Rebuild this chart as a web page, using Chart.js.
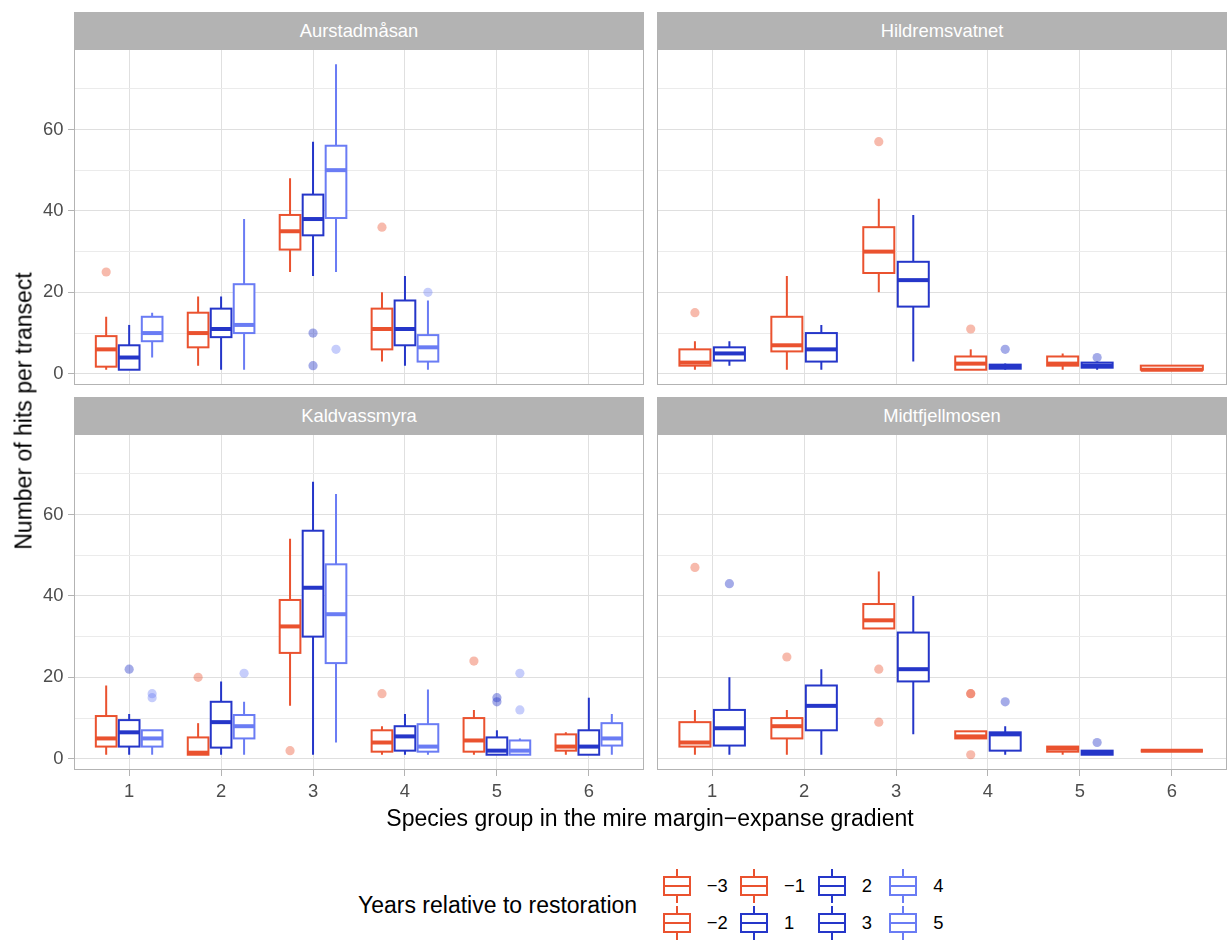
<!DOCTYPE html>
<html>
<head>
<meta charset="utf-8">
<script src="https://cdn.jsdelivr.net/npm/chart.js@4.4.1/dist/chart.umd.min.js"></script>
<style>
  html,body{margin:0;padding:0;background:#fff;}
  body{width:1227px;height:940px;position:relative;overflow:hidden;font-family:"Liberation Sans",Arial,Helvetica,sans-serif;}
  canvas{position:absolute;}
  .strip{position:absolute;background:#B3B3B3;color:#fff;font-size:18.4px;display:flex;align-items:center;justify-content:center;}
  .title{position:absolute;font-size:23px;color:#000;white-space:nowrap;}
  .lab{position:absolute;font-size:18.4px;color:#000;white-space:nowrap;transform:translateY(-50%);}
  .key{position:absolute;}
</style>
</head>
<body>
<canvas id="p0" width="644" height="336" style="left:0px;top:49px;"></canvas>
<canvas id="p1" width="570" height="336" style="left:657px;top:49px;"></canvas>
<canvas id="p2" width="644" height="396" style="left:0px;top:434px;"></canvas>
<canvas id="p3" width="570" height="396" style="left:657px;top:434px;"></canvas>

<div class="strip" id="s0" style="left:74px;top:12px;width:570px;height:37px;"></div>
<div class="strip" id="s1" style="left:657px;top:12px;width:570px;height:37px;"></div>
<div class="strip" id="s2" style="left:74px;top:397px;width:570px;height:37px;"></div>
<div class="strip" id="s3" style="left:657px;top:397px;width:570px;height:37px;"></div>

<div class="title" id="ytitle" style="left:24px;top:411px;transform:translate(-50%,-50%) rotate(-90deg);"></div>
<div class="title" id="xtitle" style="left:650px;top:818px;transform:translate(-50%,-50%);"></div>
<div class="title" id="ltitle" style="left:358px;top:905px;transform:translateY(-50%);"></div>
<div id="legend"></div>

<script>
// ---------------- data ----------------
const speciesGroups = [1, 2, 3, 4, 5, 6];
const yTickValues = [0, 10, 20, 30, 40, 50, 60, 70];
const yLabelValues = [0, 20, 40, 60];
const siteNames = ["Aurstadmåsan", "Hildremsvatnet", "Kaldvassmyra", "Midtfjellmosen"];
const legendYears = ["−3", "−2", "−1", "1", "2", "3", "4", "5"];
const legendPhase = ["pre", "pre", "pre", "post", "post", "post", "late", "late"];
const xAxisTitle = "Species group in the mire margin−expanse gradient";
const yAxisTitle = "Number of hits per transect";
const legendTitle = "Years relative to restoration";

// five-number summaries per species group: [min, lower hinge, median, upper hinge, max]
// Aurstadmåsan
const aurPre   = [[1,1.75,6,9.25,14],[2,6.5,10,15,19],[25,30.5,35,39,48],[3,6,11,16,20],null,null];
const aurPreOut = [[25],[],[],[36],[],[]];
const aurPost  = [[1,1,4,7,12],[1,9,11,16,19],[24,34,38,44,57],[2,7,11,18,24],null,null];
const aurPostOut = [[],[],[10,2],[],[],[]];
const aurLate  = [[4,8,10,14,15],[1,10,12,22,38],[25,38.25,50,56,76],[1,3,6.5,9.5,18],null,null];
const aurLateOut = [[],[],[6],[20],[],[]];
// Hildremsvatnet
const hilPre   = [[1,2,2.75,6,8],[1,5.5,7,14,24],[20,24.75,30,36,43],[1,1,2.5,4.25,6],[1,2,2.5,4.25,5],[1,1,1,2,2]];
const hilPreOut = [[15],[],[57],[11],[],[]];
const hilPost  = [[2,3.25,5,6.5,8],[1,3,6,10,12],[3,16.5,23,27.5,39],[1,1.25,1.75,2.25,2.5],[1,1.5,2,2.75,3],null];
const hilPostOut = [[],[],[],[6],[4],[]];
// Kaldvassmyra
const kalPre   = [[1,3,5,10.5,18],[1,1,1.5,5.25,8.75],[13,26,32.5,39,54],[1,1.75,4,7,8],[1,1.75,4.5,10,12],[1,2,3,6,6.5]];
const kalPreOut = [[],[20],[2],[16],[24],[]];
const kalPost  = [[1,3,6.5,9.5,11],[1,2.75,9,14,19],[1,30,42,56,68],[1,2,5.5,8,11],[1,1,2,5.25,7],[1,1,3,7,15]];
const kalPostOut = [[22],[],[],[],[14,15],[]];
const kalLate  = [[1,3,5,7,7],[1,5,8,10.75,14],[4,23.5,35.5,47.75,65],[1,1.75,3,8.5,17],[1,1,2,4.5,5],[1,3.25,5,8.75,11]];
const kalLateOut = [[15,16],[21],[],[],[12,21],[]];
// Midtfjellmosen
const midPre   = [[1,3,4,9,12],[1,5,8,10,12],[32,32,34,38,46],[5,5,5.5,6.75,6.75],[1,1.75,2.5,3,3],[2,2,2,2,2]];
const midPreOut = [[47],[25],[22,9],[16,16,1],[],[]];
const midPost  = [[1,3.25,7.5,12,20],[1,7,13,18,22],[6,19,22,31,40],[1,2,6,6.5,8],[1,1,1.5,2,2],null];
const midPostOut = [[43],[],[],[14],[4],[]];

// ---------------- styling ----------------
const FONT = '"Liberation Sans", Arial, Helvetica, sans-serif';
const phaseColor = { pre: "#EA522F", post: "#2536C9", late: "#6A7CF4" };
const phaseFill  = { pre: "rgba(234,82,47,0.4)", post: "rgba(37,54,201,0.42)", late: "rgba(106,124,244,0.38)" };

const panels = [
  { site: 0, left: true,  bottom: false, series: [
      { phase: "pre",  stats: aurPre,  out: aurPreOut },
      { phase: "post", stats: aurPost, out: aurPostOut },
      { phase: "late", stats: aurLate, out: aurLateOut } ] },
  { site: 1, left: false, bottom: false, series: [
      { phase: "pre",  stats: hilPre,  out: hilPreOut },
      { phase: "post", stats: hilPost, out: hilPostOut } ] },
  { site: 2, left: true,  bottom: true, series: [
      { phase: "pre",  stats: kalPre,  out: kalPreOut },
      { phase: "post", stats: kalPost, out: kalPostOut },
      { phase: "late", stats: kalLate, out: kalLateOut } ] },
  { site: 3, left: false, bottom: true, series: [
      { phase: "pre",  stats: midPre,  out: midPreOut },
      { phase: "post", stats: midPost, out: midPostOut } ] }
];

// dodge: position of series s within species group g (ggplot position_dodge2, width 0.75, padding 0.1)
function dodge(series, g, si) {
  const present = series.map((s, i) => s.stats[g] ? i : -1).filter(i => i >= 0);
  const n = present.length;
  const k = present.indexOf(si);
  const slot = 0.75 / n;
  const c = speciesGroups[g] - 0.375 + (k + 0.5) * slot;
  return { c: c, half: 0.45 * slot };
}

const boxPlugin = {
  id: 'ggbox',
  beforeDatasetsDraw(chart, args, opts) {
    const ctx = chart.ctx, xs = chart.scales.x, ys = chart.scales.y, a = chart.chartArea;
    const series = opts.series;
    ctx.save();
    ctx.beginPath(); ctx.rect(a.left, a.top, a.right - a.left, a.bottom - a.top); ctx.clip();
    ctx.lineJoin = 'miter'; ctx.lineCap = 'butt';
    speciesGroups.forEach((gv, g) => {
      series.forEach((s, si) => {
        const st = s.stats[g];
        if (!st) return;
        const d = dodge(series, g, si);
        const xl = xs.getPixelForValue(d.c - d.half), xr = xs.getPixelForValue(d.c + d.half), xc = xs.getPixelForValue(d.c);
        const [mn, q1, md, q3, mx] = st.map(v => ys.getPixelForValue(v));
        ctx.strokeStyle = phaseColor[s.phase];
        ctx.lineWidth = 2;
        ctx.beginPath();
        ctx.moveTo(xc, q3); ctx.lineTo(xc, mx);
        ctx.moveTo(xc, q1); ctx.lineTo(xc, mn);
        ctx.stroke();
        ctx.fillStyle = '#fff';
        ctx.fillRect(xl, q3, xr - xl, q1 - q3);
        ctx.strokeRect(xl, q3, xr - xl, q1 - q3);
        ctx.lineWidth = 4;
        ctx.beginPath(); ctx.moveTo(xl, md); ctx.lineTo(xr, md); ctx.stroke();
      });
    });
    ctx.restore();
  },
  afterDraw(chart) {
    const ctx = chart.ctx, a = chart.chartArea;
    ctx.save();
    ctx.strokeStyle = '#B3B3B3'; ctx.lineWidth = 1;
    ctx.strokeRect(a.left + 0.5, a.top + 0.5, a.right - a.left - 1, a.bottom - a.top - 1);
    ctx.restore();
  }
};

function zeroPad(s) { s.paddingTop = 0; s.paddingBottom = 0; s.paddingLeft = 0; s.paddingRight = 0; }

panels.forEach((p, pi) => {
  document.getElementById('s' + pi).textContent = siteNames[p.site];
  const datasets = p.series.map((s, si) => ({
    label: s.phase,
    data: s.out.flatMap((vals, g) => vals.map(v => ({ x: dodge(p.series, g, si).c, y: v }))),
    pointRadius: 4.6,
    pointHoverRadius: 4.6,
    pointBorderWidth: 0,
    pointBackgroundColor: phaseFill[s.phase],
    showLine: false
  }));
  new Chart(document.getElementById('p' + pi), {
    type: 'scatter',
    data: { datasets },
    plugins: [boxPlugin],
    options: {
      responsive: false,
      animation: false,
      devicePixelRatio: 1,
      layout: { padding: 0, autoPadding: false },
      events: [],
      plugins: { legend: { display: false }, tooltip: { enabled: false }, ggbox: { series: p.series } },
      scales: {
        x: {
          type: 'linear', min: 0.4, max: 6.6,
          afterBuildTicks: s => { s.ticks = speciesGroups.map(v => ({ value: v })); },
          afterFit: s => { s.height = p.bottom ? 60 : 0; zeroPad(s); },
          border: { display: false },
          grid: { color: '#E0E0E0', lineWidth: 1, drawTicks: p.bottom, tickLength: 6, tickColor: '#B3B3B3', tickWidth: 1 },
          ticks: { display: p.bottom, autoSkip: false, maxRotation: 0, padding: 7, color: '#4D4D4D',
                   font: { family: FONT, size: 18.4, lineHeight: 1 }, callback: v => String(v) }
        },
        y: {
          type: 'linear', min: -2.75, max: 79.75,
          afterBuildTicks: s => { s.ticks = yTickValues.map(v => ({ value: v })); },
          afterFit: s => { s.width = p.left ? 74 : 0; zeroPad(s); },
          border: { display: false },
          grid: {
            color: c => (c.tick && yLabelValues.includes(c.tick.value)) ? '#DFDFDF' : '#EBEBEB',
            lineWidth: 1, drawTicks: p.left, tickLength: 6, tickWidth: 1,
            tickColor: c => (c.tick && yLabelValues.includes(c.tick.value)) ? '#B3B3B3' : 'rgba(0,0,0,0)'
          },
          ticks: { display: p.left, autoSkip: false, padding: 4.6, color: '#4D4D4D',
                   font: { family: FONT, size: 18.4, lineHeight: 1 },
                   callback: v => yLabelValues.includes(v) ? String(v) : '' }
        }
      }
    }
  });
});

// ---------------- titles & legend ----------------
document.getElementById('xtitle').textContent = xAxisTitle;
document.getElementById('ytitle').textContent = yAxisTitle;
document.getElementById('ltitle').textContent = legendTitle;

const keyCenters = [676.7, 754.2, 831.7, 902.8];
const labelLefts = [706.7, 784, 861.7, 933.3];
const rowCenters = [886, 923];
const leg = document.getElementById('legend');
legendYears.forEach((yr, i) => {
  const col = Math.floor(i / 2), row = i % 2;
  const cx = keyCenters[col], cy = rowCenters[row];
  const color = phaseColor[legendPhase[i]];
  const w = document.createElement('div');
  w.className = 'key';
  w.style.cssText = `left:${cx - 1}px;top:${cy - 17}px;width:2px;height:34px;background:${color};`;
  leg.appendChild(w);
  const b = document.createElement('div');
  b.className = 'key';
  b.style.cssText = `left:${cx - 14}px;top:${cy - 10}px;width:24px;height:16px;border:2px solid ${color};background:#fff;`;
  leg.appendChild(b);
  const m = document.createElement('div');
  m.className = 'key';
  m.style.cssText = `left:${cx - 14}px;top:${cy - 1}px;width:28px;height:2px;background:${color};`;
  leg.appendChild(m);
  const t = document.createElement('div');
  t.className = 'lab';
  t.style.cssText = `left:${labelLefts[col]}px;top:${cy}px;`;
  t.textContent = yr;
  leg.appendChild(t);
});
</script>
</body>
</html>
